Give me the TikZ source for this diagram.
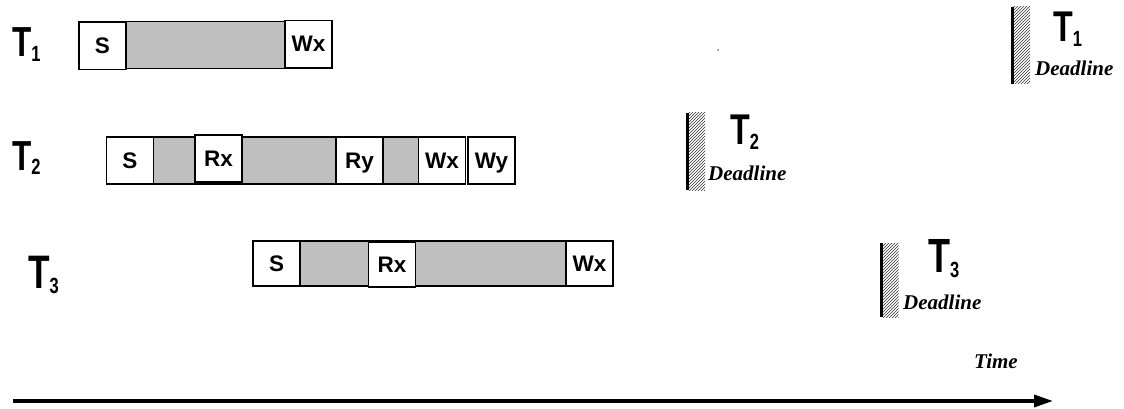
\documentclass[tikz,border=0pt]{standalone}
\usepackage{fontspec}
\setmainfont{Liberation Serif}
\setsansfont{Liberation Sans}
\usepackage{tikz}
\usetikzlibrary{positioning}
\usetikzlibrary{arrows.meta,patterns}
\tikzstyle{opbox}=[rectangle,draw=black,fill=white,line width=1.3pt,minimum width=47pt,minimum height=47pt,inner sep=0pt,text height=16pt,text depth=0pt,font=\sffamily\bfseries\fontsize{22.5}{22.5}\selectfont]
\tikzstyle{busybar}=[rectangle,draw=black,fill=black!25,line width=1.3pt,minimum height=47pt,inner sep=0pt]
\tikzstyle{hatch}=[rectangle,pattern=north east lines,pattern color=black!80,minimum width=17pt,inner sep=0pt]
\tikzstyle{deadbar}=[draw,line width=3pt]
\tikzstyle{tasklabel}=[anchor=base west,inner sep=0pt,font=\sffamily\bfseries]
\tikzstyle{deadtext}=[anchor=west,inner sep=0pt,font=\bfseries\itshape\fontsize{21}{21}\selectfont]
\tikzstyle{timeline}=[draw,line width=3.5pt,-{Triangle[length=19pt,width=12pt]}]
\newcommand{\tname}[3]{\scalebox{0.75}[1]{\fontsize{#2}{#2}\selectfont T\raisebox{-5pt}{\fontsize{#3}{#3}\selectfont #1}}}

\begin{document}
\begin{tikzpicture}[x=1pt,y=-1pt]
    \useasboundingbox (0,0) rectangle (1124,409);
    % First we draw the busy bars
    \foreach \pos/\name/\len/\boxh in {{(205.5,45)/bar1/253/47}, {(270,160.5)/bar2/326/47}, {(433,263.5)/bar3/358/45}}
        \node[busybar,minimum width=\len pt,minimum height=\boxh pt] (\name) at \pos {};

    % Then the operations on top of them
    \foreach \pos/\name/\label/\boxh in {{(102.5,46)/sa/S/47}, {(308.5,44)/wxa/Wx/47},
        {(130,160.5)/sb/S/47}, {(218.5,158.5)/rxb/Rx/47}, {(359.5,160.5)/ryb/Ry/47}, {(442,160.5)/wxb/Wx/47}, {(491.5,160.5)/wyb/Wy/47},
        {(276.5,263.5)/sc/S/45}, {(392,264.5)/rxc/Rx/45}, {(589.5,263.5)/wxc/Wx/45}}
        \node[opbox,minimum height=\boxh pt] (\name) at \pos {\label};

    % Task names
    \node[tasklabel] (t1) at (12,57) {\tname{1}{42}{22}};
    \node[tasklabel] (t2) at (12,170) {\tname{2}{42}{22}};
    \node[tasklabel] (t3) at (28,288) {\tname{3}{47}{22}};

    % Deadlines
    \foreach \pos/\name/\boxh in {{(1021.5,45.5)/d1/77}, {(696.5,151.5)/d2/77}, {(890,280)/d3/74}}
    {
        \node[hatch,minimum height=\boxh pt] (\name) at \pos {};
        \path[deadbar] (\name.north west) -- (\name.south west);
    }
    \node[tasklabel] (dt1) at (1053,42) {\tname{1}{43}{22}};
    \node[tasklabel] (dt2) at (730,145) {\tname{2}{43}{22}};
    \node[tasklabel] (dt3) at (928,272) {\tname{3}{48}{22}};
    \node[deadtext] (dl1) at (1035,68) {Deadline};
    \node[deadtext] (dl2) at (708,173) {Deadline};
    \node[deadtext] (dl3) at (903,302) {Deadline};

    \node[circle,fill=black,inner sep=0pt,minimum size=1.5pt] (dot) at (718,50) {};

    % Time axis
    \node[font=\bfseries\itshape\fontsize{21}{21}\selectfont] (time) at (996,361) {Time};
    \coordinate (tstart) at (13,401);
    \coordinate (tend) at (1053,401);
    \path[timeline] (tstart) -- (tend);
\end{tikzpicture}
\end{document}
